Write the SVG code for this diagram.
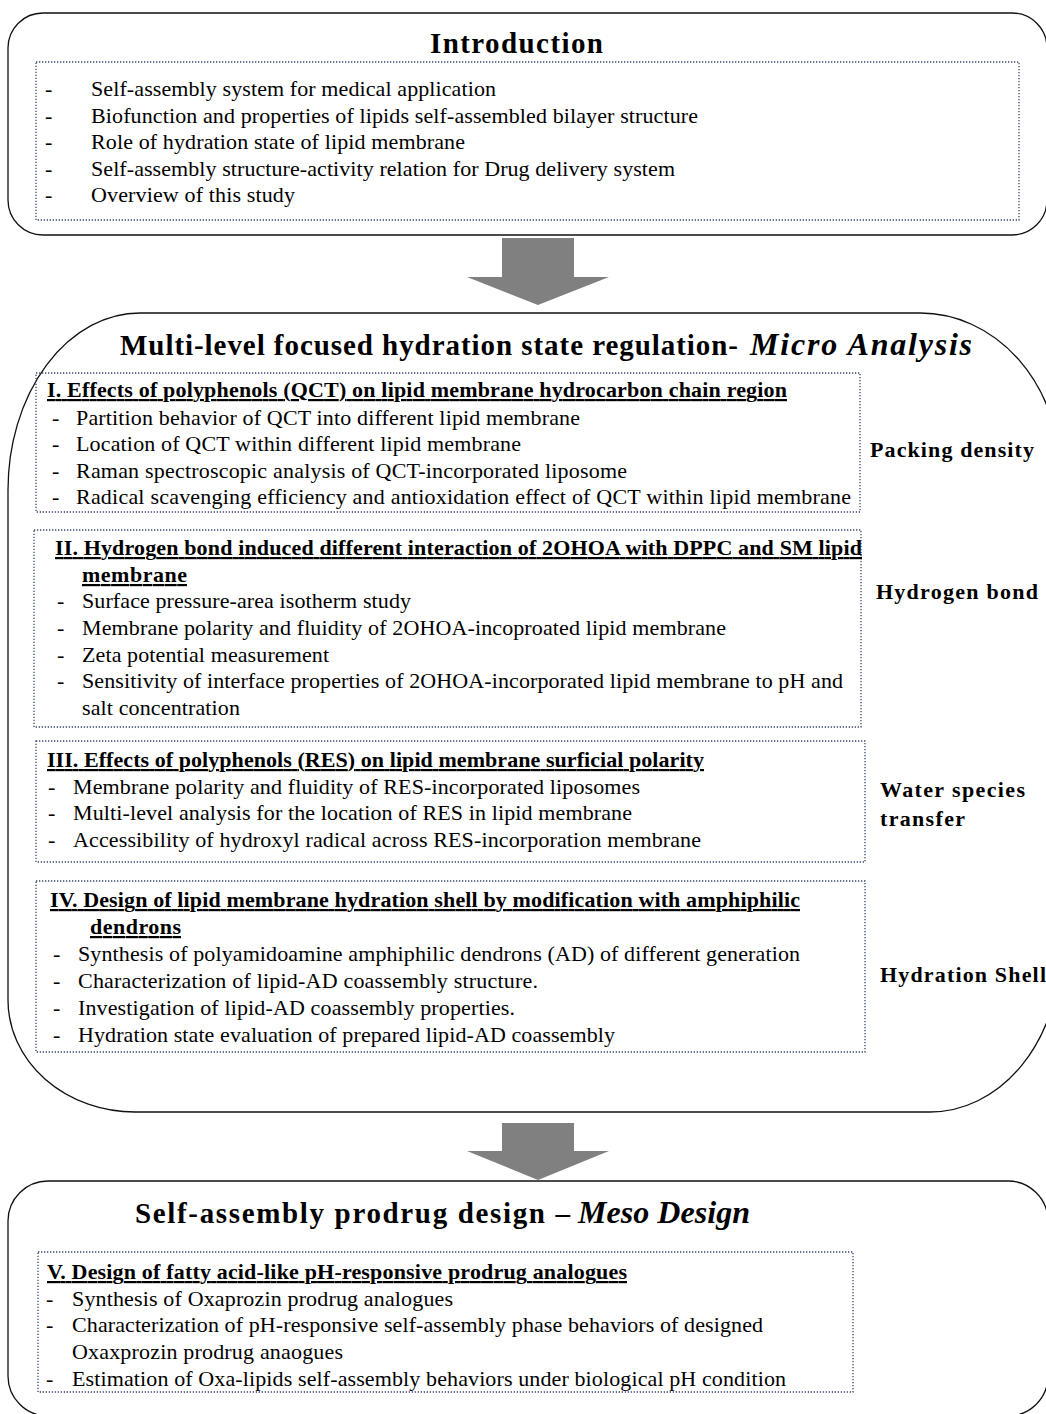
<svg xmlns="http://www.w3.org/2000/svg" width="1046" height="1414" viewBox="0 0 1046 1414">
<style>
.outer{fill:none;stroke:#111;stroke-width:1.3}
.dot{fill:none;stroke:#3a4670;stroke-width:1.3;stroke-dasharray:1.3 1.7}
.arrow{fill:#808080}
text{font-family:"Liberation Serif","Times New Roman",serif;font-size:22px;fill:#000}
.b{font-weight:bold}
.h{font-weight:bold;text-decoration:underline}
.i{font-style:italic;font-weight:bold}
.big{font-size:29px;font-weight:bold}
.bigi{font-size:32px}
</style>
<rect width="1046" height="1414" fill="#fff"/>

<g id="connectors">
<polygon class="arrow" points="502,238 574,238 574,277 609,277 538,305 467,277 502,277"/>
<polygon class="arrow" points="502,1123 574,1123 574,1151 609,1151 538,1180 467,1151 502,1151"/>
</g>

<g id="introduction">
<rect class="outer" x="8" y="13" width="1039" height="222" rx="35" ry="35"/>
<text class="big" x="430" y="53" textLength="173" lengthAdjust="spacing">Introduction</text>
<rect class="dot" x="36" y="62" width="983" height="158"/>
<text x="45" y="96">-</text><text x="91" y="96" textLength="405" lengthAdjust="spacing">Self-assembly system for medical application</text>
<text x="45" y="122.5">-</text><text x="91" y="122.5" textLength="607" lengthAdjust="spacing">Biofunction and properties of lipids self-assembled bilayer structure</text>
<text x="45" y="149">-</text><text x="91" y="149" textLength="374" lengthAdjust="spacing">Role of hydration state of lipid membrane</text>
<text x="45" y="175.5">-</text><text x="91" y="175.5" textLength="584" lengthAdjust="spacing">Self-assembly structure-activity relation for Drug delivery system</text>
<text x="45" y="202">-</text><text x="91" y="202" textLength="204" lengthAdjust="spacing">Overview of this study</text>
</g>

<g id="micro-analysis">
<path class="outer" d="M140,313 H920 A140,160 0 0 1 1060,473 V952 A130,160 0 0 1 930,1112 H135 A127,112 0 0 1 8,1000 V490 A132,177 0 0 1 140,313 Z"/>
<text class="big" x="120" y="355" textLength="618" lengthAdjust="spacing">Multi-level focused hydration state regulation-</text>
<text class="big i bigi" x="750" y="355" textLength="222" lengthAdjust="spacing">Micro Analysis</text>
</g>

<g id="section-I">
<rect class="dot" x="36" y="373" width="824" height="139"/>
<text class="h" x="47" y="397" textLength="740" lengthAdjust="spacing">I. Effects of polyphenols (QCT) on lipid  membrane hydrocarbon chain region</text>
<text x="52" y="425">-</text><text x="76" y="425" textLength="504" lengthAdjust="spacing">Partition behavior of QCT into different lipid membrane</text>
<text x="52" y="451">-</text><text x="76" y="451" textLength="445" lengthAdjust="spacing">Location of QCT within different lipid membrane</text>
<text x="52" y="478">-</text><text x="76" y="478" textLength="551" lengthAdjust="spacing">Raman spectroscopic analysis of QCT-incorporated liposome</text>
<text x="52" y="504">-</text><text x="76" y="504" textLength="775" lengthAdjust="spacing">Radical scavenging efficiency and antioxidation effect of  QCT within lipid membrane</text>
</g>

<g id="section-II">
<rect class="dot" x="34" y="530" width="827" height="197"/>
<text class="h" x="55" y="555" textLength="807" lengthAdjust="spacing">II. Hydrogen bond induced different interaction of  2OHOA with DPPC and SM lipid</text>
<text class="h" x="82" y="582" textLength="105" lengthAdjust="spacing">membrane</text>
<text x="57" y="608">-</text><text x="82" y="608" textLength="329" lengthAdjust="spacing">Surface pressure-area isotherm study</text>
<text x="57" y="635">-</text><text x="82" y="635" textLength="644" lengthAdjust="spacing">Membrane polarity and fluidity of 2OHOA-incoproated lipid membrane</text>
<text x="57" y="662">-</text><text x="82" y="662" textLength="247" lengthAdjust="spacing">Zeta potential measurement</text>
<text x="57" y="688">-</text><text x="82" y="688" textLength="761" lengthAdjust="spacing">Sensitivity of interface properties of 2OHOA-incorporated lipid membrane to pH and</text>
<text x="82" y="715" textLength="158" lengthAdjust="spacing">salt concentration</text>
</g>

<g id="section-III">
<rect class="dot" x="36" y="741" width="829" height="121"/>
<text class="h" x="47" y="767" textLength="657" lengthAdjust="spacing">III. Effects of polyphenols (RES) on lipid  membrane surficial polarity</text>
<text x="48" y="794">-</text><text x="73" y="794" textLength="567" lengthAdjust="spacing">Membrane polarity and fluidity of RES-incorporated liposomes</text>
<text x="48" y="820">-</text><text x="73" y="820" textLength="559" lengthAdjust="spacing">Multi-level analysis for the location of RES in lipid membrane</text>
<text x="48" y="847">-</text><text x="73" y="847" textLength="628" lengthAdjust="spacing">Accessibility  of hydroxyl radical across RES-incorporation membrane</text>
</g>

<g id="section-IV">
<rect class="dot" x="36" y="881" width="829" height="171"/>
<text class="h" x="50" y="907" textLength="750" lengthAdjust="spacing">IV. Design of lipid  membrane hydration shell by modification with amphiphilic</text>
<text class="h" x="90" y="934" textLength="91" lengthAdjust="spacing">dendrons</text>
<text x="53" y="961">-</text><text x="78" y="961" textLength="722" lengthAdjust="spacing">Synthesis of polyamidoamine amphiphilic dendrons (AD) of different generation</text>
<text x="53" y="988">-</text><text x="78" y="988" textLength="460" lengthAdjust="spacing">Characterization of  lipid-AD coassembly structure.</text>
<text x="53" y="1015">-</text><text x="78" y="1015" textLength="437" lengthAdjust="spacing">Investigation of lipid-AD coassembly properties.</text>
<text x="53" y="1042">-</text><text x="78" y="1042" textLength="537" lengthAdjust="spacing">Hydration state evaluation of prepared lipid-AD coassembly</text>
</g>

<g id="labels">
<text class="b" x="870" y="457" textLength="164" lengthAdjust="spacing">Packing density</text>
<text class="b" x="876" y="599" textLength="162" lengthAdjust="spacing">Hydrogen  bond</text>
<text class="b" x="880" y="797" textLength="145" lengthAdjust="spacing">Water  species</text>
<text class="b" x="880" y="826" textLength="85" lengthAdjust="spacing">transfer</text>
<text class="b" x="880" y="982" textLength="166" lengthAdjust="spacing">Hydration  Shell</text>
</g>

<g id="meso-design">
<rect class="outer" x="8" y="1181" width="1040" height="235" rx="40" ry="40"/>
<text class="big" x="135" y="1223" textLength="435" lengthAdjust="spacing">Self-assembly prodrug design –</text>
<text class="big i bigi" x="578" y="1223" textLength="172" lengthAdjust="spacing">Meso Design</text>
</g>

<g id="section-V">
<rect class="dot" x="38" y="1252" width="815" height="140"/>
<text class="h" x="47" y="1279" textLength="580" lengthAdjust="spacing">V. Design of fatty acid-like pH-responsive prodrug analogues</text>
<text x="46" y="1306">-</text><text x="72" y="1306" textLength="381" lengthAdjust="spacing">Synthesis of Oxaprozin prodrug analogues</text>
<text x="46" y="1332">-</text><text x="72" y="1332" textLength="691" lengthAdjust="spacing">Characterization of pH-responsive self-assembly phase behaviors of designed</text>
<text x="72" y="1359" textLength="271" lengthAdjust="spacing">Oxaxprozin prodrug anaogues</text>
<text x="46" y="1386">-</text><text x="72" y="1386" textLength="714" lengthAdjust="spacing">Estimation of Oxa-lipids self-assembly behaviors under biological pH condition</text>
</g>
</svg>
